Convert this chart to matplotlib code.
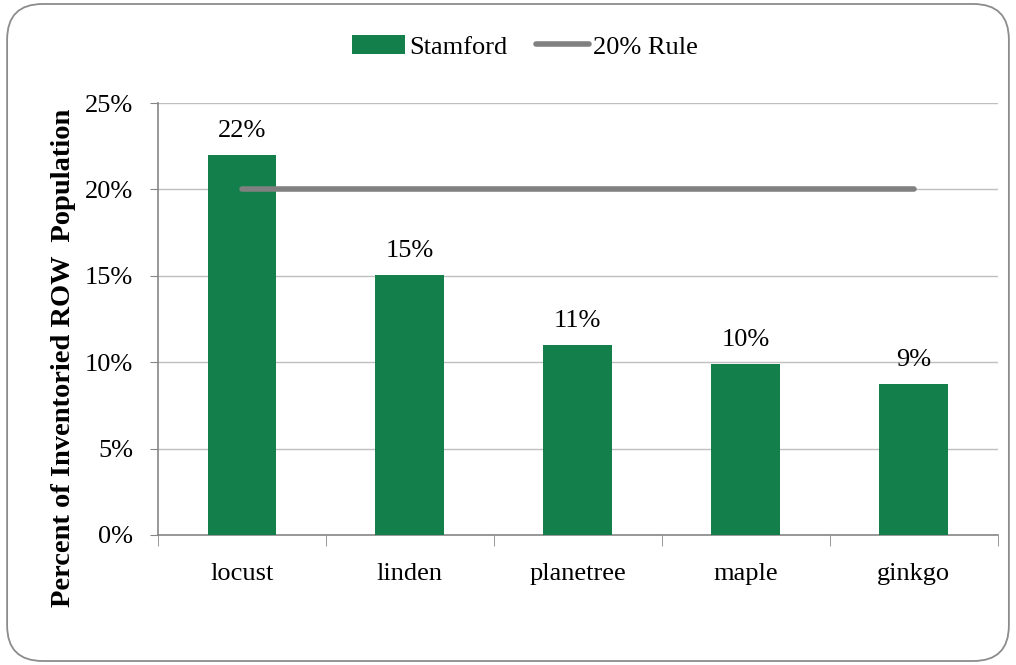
import numpy as np
import matplotlib
matplotlib.use('Agg')
import matplotlib.pyplot as plt
from matplotlib.patches import FancyBboxPatch
from matplotlib.ticker import FixedLocator, FuncFormatter

# data
species = ['locust', 'linden', 'planetree', 'maple', 'ginkgo']
stamford = [22.0, 15.05, 11.0, 9.9, 8.75]
bar_labels = ['22%', '15%', '11%', '10%', '9%']
rule = [20, 20, 20, 20, 20]
yticks = [0, 5, 10, 15, 20, 25]

plt.rcParams['font.family'] = ['Liberation Serif', 'DejaVu Serif']
green = '#13804c'
grey = '#808080'
fs = 19

fig = plt.figure(figsize=[10.16, 6.65], dpi=100)
ax = fig.add_axes([0.1555, 0.1955, 0.8265, 0.6495])

# rounded outer frame
frame = FancyBboxPatch((0.007, 0.006), 0.986, 0.988, boxstyle='round,pad=0,rounding_size=0.035',
                       transform=fig.transFigure, facecolor='white', edgecolor='#8c8c8c',
                       linewidth=1.3, zorder=-10, mutation_aspect=1016 / 665)
fig.patches.append(frame)

x = np.arange(len(species))
bars = ax.bar(x, stamford, width=0.41, color=green, label='Stamford', zorder=3)
line, = ax.plot(x, rule, color=grey, linewidth=4, solid_capstyle='round', label='20% Rule', zorder=4)

for xi, v, t in zip(x, stamford, bar_labels):
    ax.annotate(t, (xi, v), xytext=(0, 9), textcoords='offset points',
                ha='center', va='bottom', fontsize=fs)

ax.set_xlim(-0.5, len(species) - 0.5)
ax.set_ylim(0, 25)
ax.yaxis.set_major_locator(FixedLocator(yticks))
ax.yaxis.set_major_formatter(FuncFormatter(lambda v, p: '{:.0f}%'.format(v)))
ax.set_xticks(x)
ax.set_xticklabels(species, fontsize=fs)
ax.set_xticks(np.arange(-0.5, len(species)), minor=True)
ax.tick_params(axis='x', which='major', length=0, pad=20)
ax.tick_params(axis='x', which='minor', length=8, color='#868686', direction='out')
ax.tick_params(axis='y', labelsize=fs, length=6, color='#868686', pad=12)

ax.grid(axis='y', color='#bfbfbf', linewidth=1, zorder=0)
for s in ['top', 'right']:
    ax.spines[s].set_visible(False)
for s in ['left', 'bottom']:
    ax.spines[s].set_color('#868686')
    ax.spines[s].set_linewidth(1.2)
ax.set_axisbelow(True)

ax.set_ylabel('Percent of Inventoried ROW  Population', fontsize=20.5, fontweight='bold')
ax.yaxis.set_label_coords(-0.098, 0.41)

fig.legend([bars, line], ['Stamford', '20% Rule'], loc='upper center', bbox_to_anchor=(0.517, 0.983),
           ncol=2, frameon=False, fontsize=fs, handlelength=2.0, handletextpad=0.15,
           columnspacing=1.1)

fig.savefig('out.png', dpi=100)
